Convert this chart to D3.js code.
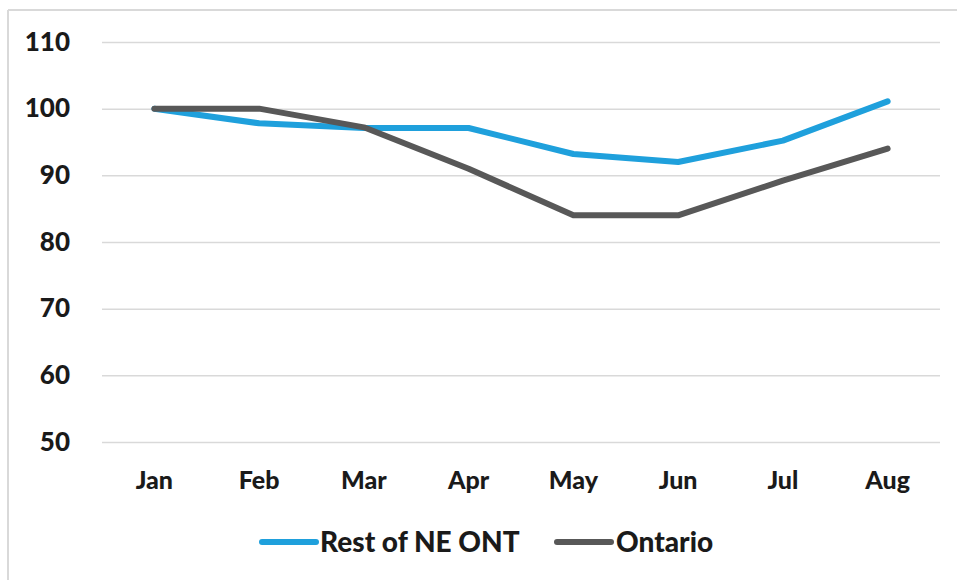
<!DOCTYPE html>
<html><head><meta charset="utf-8">
<script src="https://cdn.jsdelivr.net/npm/d3@7"></script>
<style>body{margin:0;background:#fff}svg{display:block}</style>
</head><body>
<svg id="chart" width="957" height="580"></svg>
<script>
const categories = ["Jan","Feb","Mar","Apr","May","Jun","Jul","Aug"];
const restOfNE = [100, 97.8, 97.1, 97.1, 93.2, 92.0, 95.2, 101.1];
const ontario  = [100, 100, 97.2, 91.0, 84.0, 84.0, 89.2, 94.0];
const yTicks = [50, 60, 70, 80, 90, 100, 110];
const seriesNames = ["Rest of NE ONT", "Ontario"];
const seriesColors = ["#1fa0dc", "#585858"];

const svg = d3.select("#chart");
const font = "Lato, 'Open Sans', sans-serif";

// frame
svg.append("line").attr("x1",8).attr("x2",957).attr("y1",10).attr("y2",10).attr("stroke","#d9d9d9").attr("stroke-width",2);
svg.append("line").attr("x1",8).attr("x2",8).attr("y1",10).attr("y2",580).attr("stroke","#d9d9d9").attr("stroke-width",2);

const x = d3.scaleBand().domain(categories).range([102, 940]).padding(0);
const y = d3.scaleLinear().domain([50, 110]).range([442, 42]);

// grid
const yAxis = d3.axisLeft(y).tickValues(yTicks).tickSize(-(940-102)).tickPadding(32);
const gy = svg.append("g").attr("transform","translate(102,0)").call(yAxis);
gy.select(".domain").remove();
gy.selectAll(".tick line").attr("stroke","#d9d9d9").attr("stroke-width",1.5);
gy.selectAll(".tick text").attr("font-family",font).attr("font-weight",900).attr("font-size",26).attr("fill","#1a1a1a");

const xAxis = d3.axisBottom(x).tickSize(0).tickPadding(29);
const gx = svg.append("g").attr("transform","translate(0,442)").call(xAxis);
gx.select(".domain").remove();
gx.selectAll(".tick text").attr("font-family",font).attr("font-weight",900).attr("font-size",25).attr("fill","#1a1a1a");

const line = d3.line().x((d,i)=>x(categories[i]) + x.bandwidth()/2).y(d=>y(d));
[restOfNE, ontario].forEach((s, k) => {
  svg.append("path").datum(s).attr("d", line).attr("fill","none")
    .attr("stroke", seriesColors[k]).attr("stroke-width",6)
    .attr("stroke-linejoin","round").attr("stroke-linecap","round");
});

// legend
const legend = [{x:262, tx:320}, {x:557, tx:616}];
seriesNames.forEach((n,k)=>{
  svg.append("line").attr("x1",legend[k].x).attr("x2",legend[k].x+54).attr("y1",542).attr("y2",542)
    .attr("stroke",seriesColors[k]).attr("stroke-width",6).attr("stroke-linecap","round");
  svg.append("text").attr("x",legend[k].tx).attr("y",542).attr("dy","0.35em")
    .attr("font-family",font).attr("font-weight",900).attr("font-size",28).attr("fill","#1a1a1a").text(n);
});
</script>
</body></html>
